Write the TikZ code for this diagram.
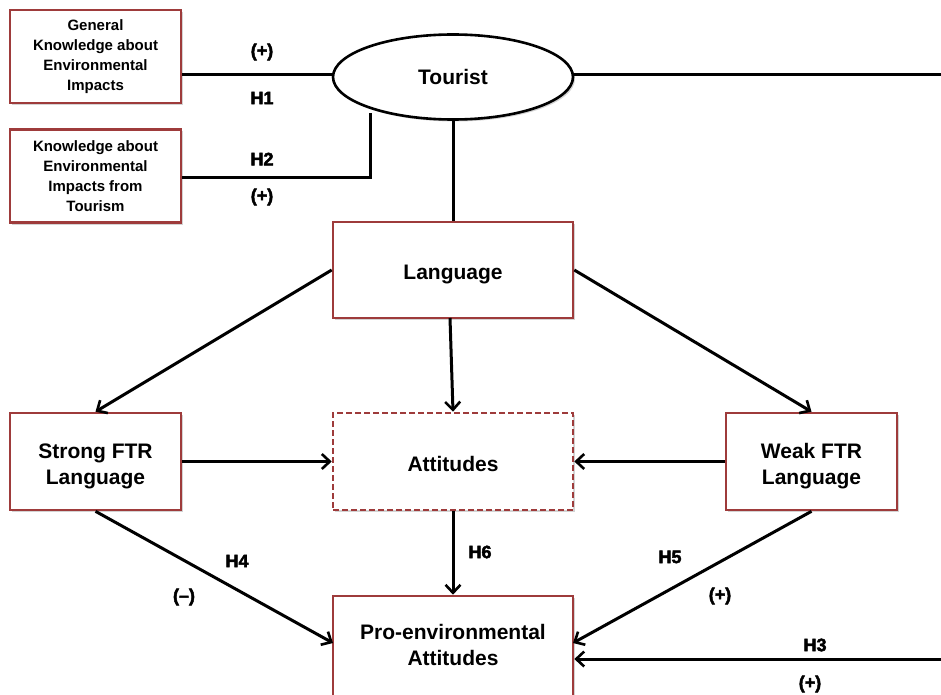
\documentclass[tikz,border=0pt]{standalone}
\usepackage{fontspec}
\setmainfont{Liberation Sans}
\newfontfamily\heavy{Liberation Sans}[FakeBold=2.5]
\usetikzlibrary{arrows.meta,shapes.geometric,shadows}
\definecolor{boxred}{HTML}{9E3B3B}
\begin{document}
\begin{tikzpicture}[x=1pt,y=-1pt,
  box/.style={draw=boxred,line width=2.6pt,fill=white,align=center,font=\bfseries,
    drop shadow={shadow xshift=2pt,shadow yshift=-2pt,opacity=0.35}},
  small/.style={box,minimum width=171pt,minimum height=93pt,font=\fontsize{15}{20}\selectfont\bfseries},
  big/.style={box,minimum width=240pt,minimum height=96pt,font=\fontsize{21}{26}\selectfont\bfseries},
  mid/.style={box,minimum width=171pt,minimum height=97pt,font=\fontsize{21}{26}\selectfont\bfseries},
  conn/.style={line width=3pt},
  arr/.style={conn,-{Straight Barb[length=8pt,width=15pt,line width=2.6pt]}},
  hlab/.style={font=\fontsize{18}{20}\selectfont\heavy\bfseries}
]
\useasboundingbox (0,0) rectangle (941,695);
\clip (0,0) rectangle (941,695);
% nodes
\node[small] (gk) at (95.5,56.5) {General\\Knowledge about\\Environmental\\Impacts};
\node[small] (kt) at (95.5,176) {Knowledge about\\Environmental\\Impacts from\\Tourism};
\node[ellipse,draw=black,line width=2.6pt,fill=white,minimum width=240pt,minimum height=85pt,
  font=\fontsize{21}{26}\selectfont\bfseries,
  drop shadow={shadow xshift=2pt,shadow yshift=-2pt,opacity=0.35}] (tour) at (453,77) {Tourist};
\node[big] (lang) at (453,270) {\rule{0pt}{23pt}Language};
\node[mid] (strong) at (95.5,461.5) {\rule{0pt}{25pt}Strong FTR\\Language};
\node[big,dashed,dash pattern=on 6pt off 3pt,minimum height=97pt] (att) at (453,461.5) {\rule{0pt}{21pt}Attitudes};
\node[mid] (weak) at (811.5,461.5) {\rule{0pt}{25pt}Weak FTR\\Language};
\node[big,minimum height=110pt] (pro) at (453,651) {Pro-environmental\\Attitudes\rule[-13pt]{0pt}{0pt}};
\coordinate (rtop) at (941,75);
\coordinate (rbot) at (941,659);
\coordinate (kbend) at (370,177);
% connectors
\draw[conn] (gk.east |- 0,75) -- (tour.west |- 0,75);
\draw[conn] (kt.east |- 0,177) -- (kbend) -- (370,113);
\draw[conn] (tour.south) -- (lang.north);
\draw[conn] (tour.east |- 0,75) -- (rtop);
\draw[arr] (rbot) -- (pro.east |- rbot);
\draw[arr] (lang.west) -- (strong.north);
\draw[arr] (450,318) -- (att.north);
\draw[arr] (lang.east) -- (weak.north);
\draw[arr] (strong.east) -- (att.west);
\draw[arr] (weak.west) -- (att.east);
\draw[arr] (att.south) -- (pro.north);
\draw[arr] (strong.south) -- (333,643);
\draw[arr] (weak.south) -- (573,643);
% labels
\node[hlab] (l1) at (262,52) {(+)};
\node[hlab] (h1) at (262,98) {H1};
\node[hlab] (h2) at (262,159) {H2};
\node[hlab] (l2) at (262,197) {(+)};
\node[hlab] (h4) at (237,561) {H4};
\node[hlab] (l4) at (184,597) {(\textendash)};
\node[hlab] (h6) at (480,552) {H6};
\node[hlab] (h5) at (670,557) {H5};
\node[hlab] (l5) at (720,596) {(+)};
\node[hlab] (h3) at (815,645) {H3};
\node[hlab] (l3) at (810,684) {(+)};
\end{tikzpicture}
\end{document}
